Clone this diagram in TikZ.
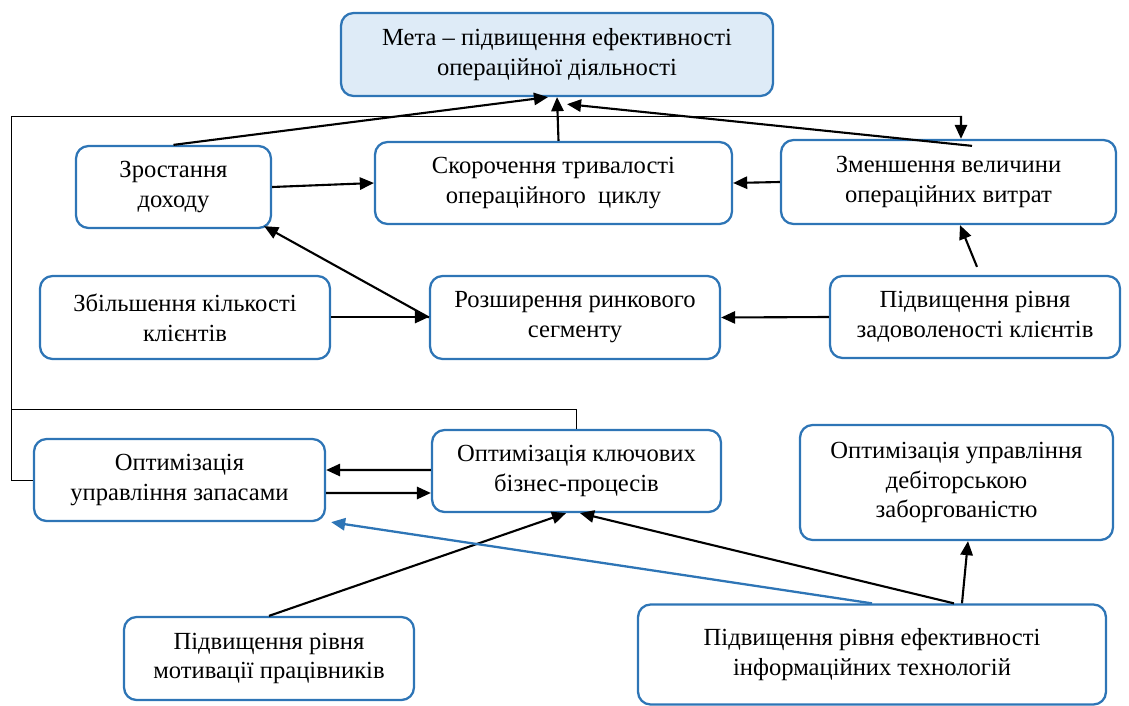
\documentclass[tikz,border=0pt]{standalone}
\usepackage{fontspec}
\setmainfont{Liberation Serif}
\usepackage{tikz}
\usetikzlibrary{arrows.meta}

\definecolor{boxblue}{RGB}{46,117,182}
\definecolor{goalfill}{RGB}{222,235,247}

\begin{document}
\begin{tikzpicture}[x=0.02cm, y=-0.02cm,
	box/.style={rectangle, rounded corners=0.25cm, draw=boxblue, line width=1.3pt, align=center, font=\fontsize{14}{17}\selectfont, inner sep=0pt},
	goal/.style={box, fill=goalfill},
	arr/.style={draw=black, line width=1.2pt, -{Triangle[length=8pt,width=7pt]}},
	bluearr/.style={arr, draw=boxblue, line width=1.3pt, -{Triangle[length=8pt,width=7pt,fill=boxblue]}},
	thinline/.style={draw=black, line width=0.5pt}]
				\useasboundingbox (0,0) rectangle (1129,706);
				
				\node[goal, minimum width=8.64cm, minimum height=1.66cm] (meta) at (557,54.5){Мета – підвищення ефективності\\операційної діяльності};
				
				\node[box, minimum width=3.9cm, minimum height=1.64cm] (zrost) at (173.5,187){Зростання\\доходу};
				\node[box, minimum width=7.14cm, minimum height=1.64cm] (skor) at (553.5,183){Скорочення тривалості\\операційного\ \ циклу};
				\node[box, minimum width=6.7cm, minimum height=1.68cm] (zmen) at (948.5,182){Зменшення величини\\операційних витрат};
				
				\node[box, minimum width=5.8cm, minimum height=1.66cm] (zbil) at (185,317.5){Збільшення кількості\\клієнтів};
				\node[box, minimum width=5.8cm, minimum height=1.66cm] (rozsh) at (575,317.5){Розширення ринкового\\сегменту};
				\node[box, minimum width=5.8cm, minimum height=1.64cm] (zadov) at (975,317){Підвищення рівня\\задоволеності клієнтів};
				
				\node[box, minimum width=5.82cm, minimum height=1.64cm] (zapas) at (179.5,480){Оптимізація\\управління запасами};
				\node[box, minimum width=5.78cm, minimum height=1.64cm] (proces) at (576.5,471){Оптимізація ключових\\бізнес-процесів};
				\node[box, minimum width=6.26cm, minimum height=2.3cm] (debit) at (956.5,482.5){Оптимізація управління\\дебіторською\\заборгованістю};
				
				\node[box, minimum width=5.8cm, minimum height=1.66cm] (motyv) at (269,658.5){Підвищення рівня\\мотивації працівників};
				\node[box, minimum width=9.36cm, minimum height=2cm] (inform) at (872,654.5){Підвищення рівня ефективності\\інформаційних технологій};
				
				\coordinate (lv) at (11,116);
				\coordinate (rv) at (961,116);
				\coordinate (lh) at (11,409);
				
				% to the goal
				\path (zrost.north) edge[arr] ([xshift=-0.18cm]meta.south);
				\path ([xshift=0.1cm]skor.north) edge[arr] (meta.south);
				\path ([xshift=0.47cm,yshift=-0.14cm]zmen.north) edge[arr] ([xshift=0.2cm,yshift=-0.14cm]meta.south);
				
				% thin feedback lines
				\draw[thinline] (zapas.west) -| (lv) -- (rv);
				\path (rv) edge[arr] ([xshift=0.25cm]zmen.north);
				\draw[thinline] (proces.north) |- (lh);
				
				\path (zrost.east) edge[arr] (skor.west);
				\path (zmen.west) edge[arr] (skor.east);
				\path ([xshift=0.04cm,yshift=0.16cm]zadov.north) edge[arr] ([xshift=0.23cm]zmen.south);
				\path ([yshift=0.01cm]zbil.east) edge[arr] ([yshift=0.01cm]rozsh.west);
				\path (rozsh.west) edge[arr] ([xshift=-0.16cm,yshift=0.06cm]zrost.south east);
				\path (zadov.west) edge[arr] (rozsh.east);
				
				\path ([yshift=0.02cm]proces.west) edge[arr] ([yshift=0.2cm]zapas.east);
				\path ([yshift=-0.26cm]zapas.east) edge[arr] ([yshift=-0.44cm]proces.west);
				
				\path (motyv.north) edge[arr] ([xshift=-0.21cm]proces.south);
				\path ([xshift=1.64cm]inform.north) edge[arr] ([xshift=0.07cm]proces.south);
				\path (inform.north) edge[bluearr] ([xshift=0.1cm]zapas.south east);
				\path ([xshift=1.8cm]inform.north) edge[arr] ([xshift=0.23cm]debit.south);
				\end{tikzpicture}
\end{document}
